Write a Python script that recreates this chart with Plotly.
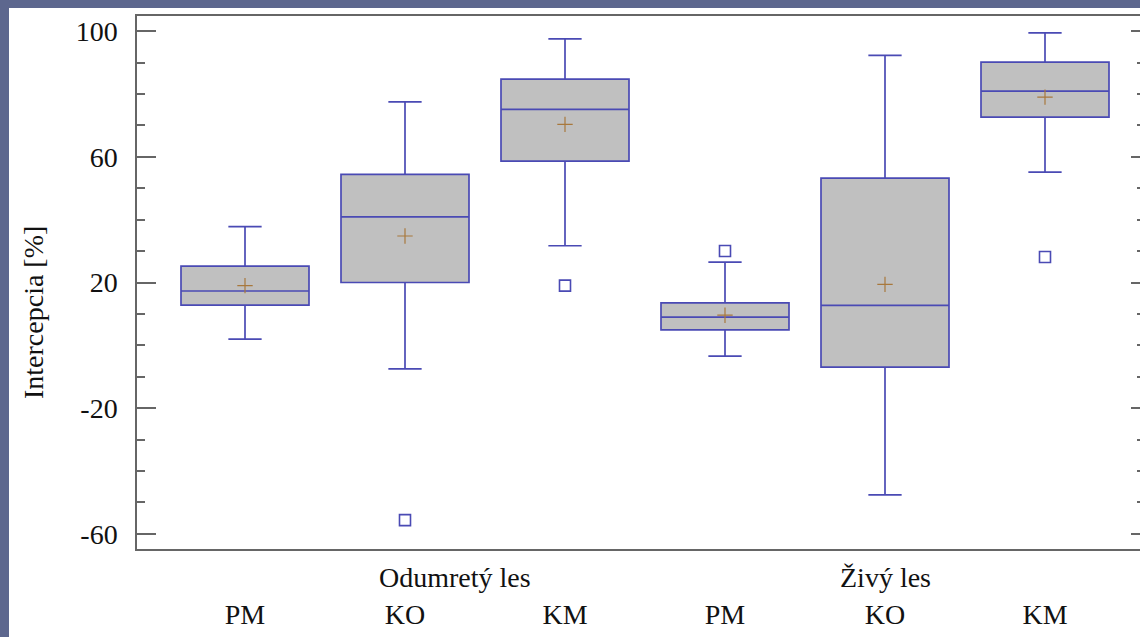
import plotly.graph_objects as go

# ---- data ----
categories = ["PM", "KO", "KM", "PM", "KO", "KM"]
groups = ["Odumretý les", "Živý les"]
group_label_pos = [1.31, 4.0]

q1 = [12.8, 20.0, 58.6, 4.9, -6.9, 72.6]
median = [17.3, 40.9, 75.1, 9.0, 12.7, 80.9]
q3 = [25.2, 54.4, 84.7, 13.5, 53.2, 90.1]
lower_whisker = [2.0, -7.5, 31.7, -3.4, -47.6, 55.1]
upper_whisker = [37.8, 77.5, 97.5, 26.5, 92.3, 99.4]
means = [19.0, 34.8, 70.3, 9.6, 19.4, 79.0]

outlier_cat = [1, 2, 3, 5]
outlier_val = [-55.6, 19.0, 30.0, 28.1]

y_ticks = [-60, -20, 20, 60, 100]
y_tick_text = ["-60", "-20", "20", "60", "100"]

BLUE = "#4a4ab4"
GRAY = "#c0c0c0"
BROWN = "#a8783c"
AXIS = "#666666"
FONT = "Liberation Serif"
FS = 28

pos = list(range(len(categories)))

fig = go.Figure()
fig.add_trace(go.Box(
    x=pos, q1=q1, median=median, q3=q3,
    lowerfence=lower_whisker, upperfence=upper_whisker,
    width=0.8, whiskerwidth=0.26,
    fillcolor=GRAY, line=dict(color=BLUE, width=1.7),
    boxpoints=False, showlegend=False, hoverinfo="skip",
))
fig.add_trace(go.Scatter(
    x=pos, y=means, mode="markers",
    marker=dict(symbol="cross-thin", size=11, line=dict(color=BROWN, width=1.2)),
    showlegend=False, hoverinfo="skip",
))
fig.add_trace(go.Scatter(
    x=outlier_cat, y=outlier_val, mode="markers",
    marker=dict(symbol="square-open", size=11, color=BLUE, line=dict(color=BLUE, width=1.6)),
    showlegend=False, hoverinfo="skip",
))

W, H = 1140, 637
ml, mr, mt, mb = 137, 0, 16, 88
pw = W - ml - mr
ph = H - mt - mb

fig.update_layout(
    width=W, height=H,
    margin=dict(l=ml, r=mr, t=mt, b=mb, pad=0),
    paper_bgcolor="#5d678e",
    plot_bgcolor="white",
    font=dict(family=FONT, size=FS, color="#111111"),
    xaxis=dict(
        range=[-0.675, -0.675 + pw / 160], tickvals=pos, ticktext=categories,
        showline=True, linecolor=AXIS, linewidth=1.5, mirror=True,
        ticks="", showgrid=False, zeroline=False, ticklabelstandoff=40,
        tickfont=dict(family=FONT, size=FS, color="#111111"),
    ),
    yaxis=dict(
        range=[-64.8, 104.8], tickvals=y_ticks, ticktext=y_tick_text,
        showline=True, linecolor=AXIS, linewidth=1.5, mirror=False,
        ticks="inside", ticklen=19, tickwidth=1.5, tickcolor=AXIS,
        minor=dict(dtick=10, ticks="inside", ticklen=8, tickwidth=1.5, tickcolor=AXIS, showgrid=False),
        showgrid=False, zeroline=False, ticklabelstandoff=12,
        tickfont=dict(family=FONT, size=FS, color="#111111"),
    ),
    yaxis2=dict(
        range=[-64.8, 104.8], tickvals=y_ticks, overlaying="y", side="right",
        showline=False, ticks="inside", ticklen=9, tickwidth=1.5, tickcolor=AXIS,
        minor=dict(dtick=10, ticks="inside", ticklen=3, tickwidth=1.5, tickcolor=AXIS, showgrid=False),
        showticklabels=False, showgrid=False, zeroline=False,
    ),
    shapes=[dict(
        type="rect", xref="paper", yref="paper",
        x0=(9 - ml) / pw, x1=1.05, y0=-0.3, y1=(H - mb - 8) / ph,
        fillcolor="white", line=dict(width=0), layer="below",
    )],
)

fig.add_trace(go.Scatter(x=[None], y=[None], yaxis="y2", showlegend=False, hoverinfo="skip"))

annotations = [dict(
    text="Intercepcia [%]", textangle=-90, xref="paper", yref="paper",
    x=(33 - ml) / pw, y=(H - mb - 313) / ph, showarrow=False,
    xanchor="center", yanchor="middle", font=dict(family=FONT, size=FS, color="#111111"),
)]
for g, gx in zip(groups, group_label_pos):
    annotations.append(dict(
        text=g, xref="x", yref="paper", x=gx, y=(H - mb - 577) / ph,
        showarrow=False, xanchor="center", yanchor="middle",
        font=dict(family=FONT, size=FS, color="#111111"),
    ))
fig.update_layout(annotations=annotations)

fig.write_html("out.html")
